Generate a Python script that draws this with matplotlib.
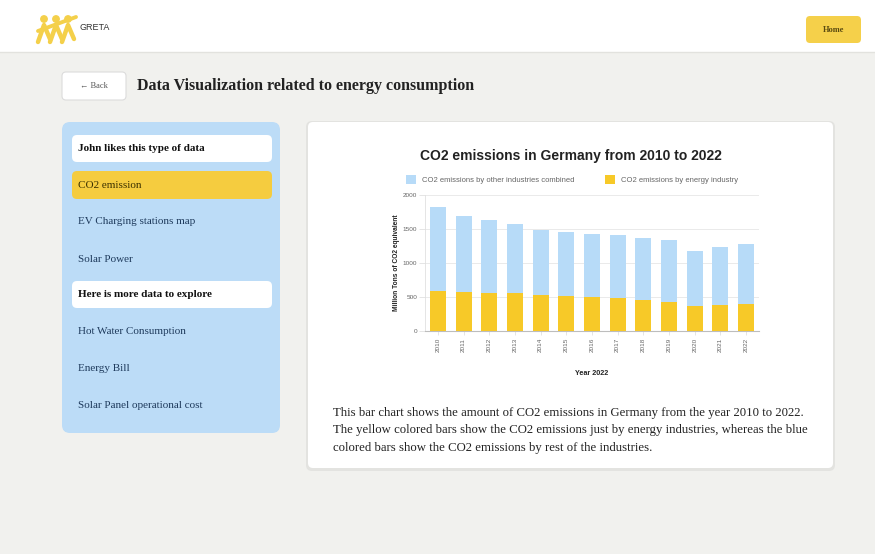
import matplotlib
matplotlib.use("Agg")
import matplotlib.pyplot as plt
from matplotlib.patches import FancyBboxPatch, Rectangle, Patch

years = ["2010", "2011", "2012", "2013", "2014", "2015", "2016",
         "2017", "2018", "2019", "2020", "2021", "2022"]
energy_industry = [595, 580, 565, 556, 527, 517, 500, 492, 454, 429, 366, 380, 395]
other_industries = [1235, 1110, 1065, 1014, 963, 943, 925, 913, 912, 903, 805, 850, 879]
y_ticks = [0, 500, 1000, 1500, 2000]

menu_items = ["EV Charging stations map", "Solar Power"]
more_items = ["Hot Water Consumption", "Energy Bill", "Solar Panel operational cost"]

W, H = 875, 554
fig = plt.figure(figsize=(W / 100, H / 100), dpi=100)
fig.patch.set_facecolor("#f1f1ee")

ui = fig.add_axes([0, 0, 1, 1])
ui.set_xlim(0, W)
ui.set_ylim(H, 0)
ui.axis("off")

SERIF = "Liberation Serif"
SANS = "Liberation Sans"

def rbox(x0, y0, x1, y1, fc, ec="none", r=5, lw=0.8, z=1):
    p = FancyBboxPatch((x0 + r, y0 + r), (x1 - x0) - 2 * r, (y1 - y0) - 2 * r,
                       boxstyle=f"round,pad={r}", fc=fc, ec=ec, lw=lw, zorder=z)
    ui.add_patch(p)
    return p

# header
ui.add_patch(Rectangle((0, 0), W, 52, fc="white", ec="none", zorder=1))
ui.plot([0, W], [52, 52], color="#e2e2de", lw=1, zorder=2)
# logo
ycol = "#f4d04a"
for dx in (0, 12, 24):
    ui.plot([38 + dx, 44 + dx, 50 + dx], [42, 25, 39], color=ycol, lw=3.2, solid_capstyle="round", zorder=3)
ui.plot([38, 76], [31, 17], color=ycol, lw=2.8, solid_capstyle="round", zorder=3)
for cx in (44, 56, 68):
    ui.add_patch(plt.Circle((cx, 19), 3.2, color=ycol, zorder=3))
ui.text(80, 28, "GRETA", fontsize=6.5, family=SANS, color="#333333", va="center", ha="left", zorder=4)
# home button
rbox(806, 16, 861, 43, fc="#f5d04a", r=4, z=3)
ui.text(833.5, 29.5, "Home", fontsize=6, family=SERIF, weight="bold", color="#5a4a10",
        ha="center", va="center", zorder=4)

# back button and title
rbox(62, 72, 126, 100, fc="white", ec="#dcdcdc", r=4, z=3)
ui.text(94, 86, "\u2190 Back", fontsize=6, family=SERIF, color="#555555", ha="center", va="center", zorder=4)
ui.text(137, 86, "Data Visualization related to energy consumption", fontsize=11.5, family=SERIF,
        weight="bold", color="#222222", ha="left", va="center", zorder=4)

# sidebar
rbox(62, 122, 280, 433, fc="#bcdcf7", r=8, z=2)
rbox(72, 135, 272, 162, fc="white", r=5, z=3)
ui.text(78, 148.5, "John likes this type of data", fontsize=8, family=SERIF, weight="bold",
        color="#111111", ha="left", va="center", zorder=4)
rbox(72, 171, 272, 199, fc="#f5cc3f", r=5, z=3)
ui.text(78, 185, "CO2 emission", fontsize=8, family=SERIF, color="#3a3000", ha="left", va="center", zorder=4)
for i, t in enumerate(menu_items):
    ui.text(78, 222 + i * 37, t, fontsize=8, family=SERIF, color="#1e3a5c", ha="left", va="center", zorder=4)
rbox(72, 281, 272, 308, fc="white", r=5, z=3)
ui.text(78, 294.5, "Here is more data to explore", fontsize=8, family=SERIF, weight="bold",
        color="#111111", ha="left", va="center", zorder=4)
for i, t in enumerate(more_items):
    ui.text(78, 332 + i * 36.5, t, fontsize=8, family=SERIF, color="#1e3a5c", ha="left", va="center", zorder=4)

# card
rbox(306, 121, 835, 471, fc="#e3e3e0", r=6, z=2)
rbox(308, 122, 833, 468, fc="white", r=5, z=3)
ui.text(571, 156, "CO2 emissions in Germany from 2010 to 2022", fontsize=10, family=SANS,
        weight="bold", color="#222222", ha="center", va="center", zorder=4)
desc = ("This bar chart shows the amount of CO2 emissions in Germany from the year 2010 to 2022.\n"
        "The yellow colored bars show the CO2 emissions just by energy industries, whereas the blue\n"
        "colored bars show the CO2 emissions by rest of the industries.")
ui.text(333, 430.5, desc, fontsize=9.2, family=SERIF, color="#222222", ha="left", va="center",
        linespacing=1.62, zorder=4)

# chart
ax = fig.add_axes([425 / W, 1 - 331 / H, (759 - 425) / W, (331 - 195) / H], zorder=5)
ax.patch.set_alpha(0)
xs = range(len(years))
blue = "#b7dbf8"
yellow = "#f7c928"
ax.bar(xs, energy_industry, width=0.62, color=yellow, zorder=3)
ax.bar(xs, other_industries, width=0.62, bottom=energy_industry, color=blue, zorder=3)
ax.set_xlim(-0.5, len(years) - 0.5)
ax.set_ylim(0, 2000)
ax.set_yticks(y_ticks)
ax.set_yticklabels([str(v) for v in y_ticks], fontsize=4.6, color="#666666", family=SANS)
ax.set_xticks(list(xs))
ax.set_xticklabels(years, rotation=90, fontsize=4.6, color="#666666", family=SANS)
ax.grid(axis="y", color="#e6e6e6", lw=0.6, zorder=0)
for s in ("top", "right"):
    ax.spines[s].set_visible(False)
ax.spines["left"].set_color("#e0e0e0")
ax.spines["bottom"].set_color("#bdbdbd")
ax.spines["left"].set_linewidth(0.6)
ax.spines["bottom"].set_linewidth(0.8)
ax.tick_params(axis="y", length=4, width=0.6, color="#e0e0e0", pad=1.5)
ax.tick_params(axis="x", length=3, width=0.6, color="#e0e0e0", pad=2)
ax.set_ylabel("Million Tons of CO2 equivalent", fontsize=4.8, weight="bold", family=SANS,
              color="#222222", labelpad=2)
ax.set_xlabel("Year 2022", fontsize=5.2, weight="bold", family=SANS, color="#222222", labelpad=13)
handles = [Patch(fc=blue, ec="none"), Patch(fc=yellow, ec="none")]
ax.legend(handles, ["CO2 emissions by other industries combined", "CO2 emissions by energy industry"],
          loc="lower center", bbox_to_anchor=(0.44, 1.03), ncol=2, frameon=False,
          prop={"family": SANS, "size": 5.5}, handlelength=1.3, handleheight=1.3,
          columnspacing=4, labelcolor="#666666", handletextpad=0.8)

fig.savefig("out.png", dpi=100, facecolor=fig.get_facecolor())
